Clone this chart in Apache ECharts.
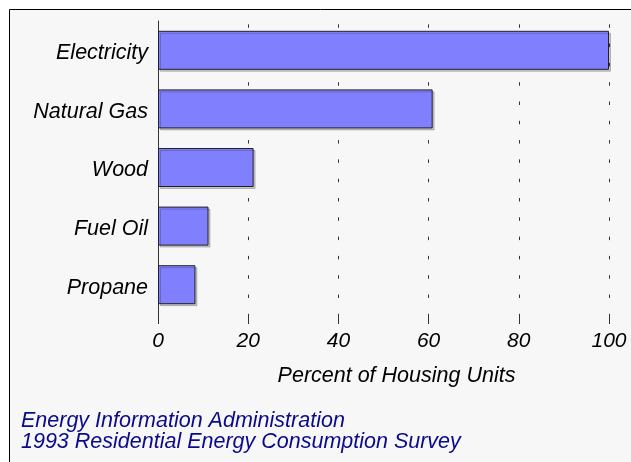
<!DOCTYPE html>
<html>
<head>
<meta charset="utf-8">
<script src="https://cdn.jsdelivr.net/npm/echarts@6/dist/echarts.min.js"></script>
<style>
html,body{margin:0;padding:0;background:#ffffff;}
#c{width:631px;height:462px;}
</style>
</head>
<body>
<div id="c"></div>
<script>
const categories = ["Electricity", "Natural Gas", "Wood", "Fuel Oil", "Propane"];
const values = [100, 60.9, 21.2, 11.2, 8.3];
const xTicks = [0, 20, 40, 60, 80, 100];
const axisTitle = "Percent of Housing Units";
const footerLines = ["Energy Information Administration", "1993 Residential Energy Consumption Survey"];

const FONT = "'Liberation Sans', Arial, Helvetica, sans-serif";
const chart = echarts.init(document.getElementById('c'), null, {renderer: 'canvas'});
chart.setOption({
  animation: false,
  backgroundColor: '#ffffff',
  graphic: [{
    type: 'rect', z: -10, silent: true,
    shape: {x: 9.5, y: 9.5, width: 700, height: 600},
    style: {fill: '#f7f7f7', stroke: '#000000', lineWidth: 1}
  }],
  title: {
    left: 21, top: 411, padding: 0,
    text: footerLines.join('\n'),
    textStyle: {color: '#0a0a8a', fontStyle: 'italic', fontWeight: 'normal', fontSize: 21.5, lineHeight: 21, fontFamily: FONT}
  },
  grid: {left: 158, right: 22, top: 21, height: 293},
  xAxis: {
    type: 'value', min: xTicks[0], max: xTicks[xTicks.length - 1], interval: 20,
    name: axisTitle, nameLocation: 'middle', nameGap: 51,
    nameTextStyle: {color: '#000', fontStyle: 'italic', fontSize: 21.5, fontFamily: FONT, padding: [0, 0, 0, 26]},
    axisLine: {show: false},
    axisTick: {show: true, length: 10, lineStyle: {color: '#333', width: 1}},
    axisLabel: {color: '#000', fontStyle: 'italic', fontSize: 21, fontFamily: FONT, margin: 17},
    splitLine: {show: true, lineStyle: {color: '#333', width: 1, type: [3.5, 15.8], dashOffset: 16}}
  },
  yAxis: {
    type: 'category', data: categories, inverse: true,
    axisLine: {show: true, lineStyle: {color: '#333', width: 1}},
    axisTick: {show: false},
    axisLabel: {
      margin: 10,
      formatter: function (v) { return '{a|' + v + '}'; },
      rich: {a: {color: '#000', fontStyle: 'italic', fontSize: 21.5, fontFamily: FONT, padding: [6, 0, 0, 0]}}
    },
    splitLine: {show: false}
  },
  series: [{
    type: 'bar', data: values, barWidth: 39,
    itemStyle: {color: '#8080ff', borderColor: '#222', borderWidth: 1,
      shadowColor: 'rgba(0,0,0,0.2)', shadowOffsetX: 2, shadowOffsetY: 2, shadowBlur: 0}
  }]
});
</script>
</body>
</html>
